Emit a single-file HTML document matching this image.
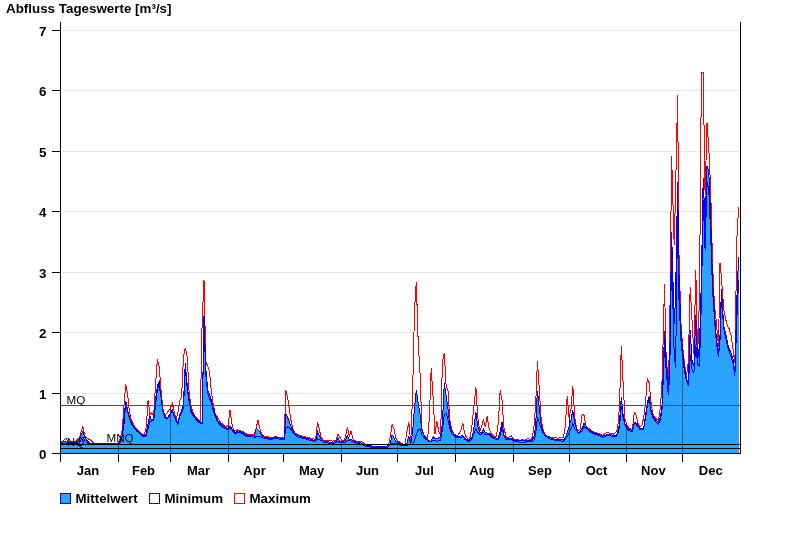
<!DOCTYPE html>
<html lang="de"><head><meta charset="utf-8"><title>Abfluss Tageswerte</title>
<style>html,body{margin:0;padding:0;background:#fff}svg{display:block}text{font-family:"Liberation Sans",sans-serif;fill:#000}.b{font-weight:bold}</style></head><body>
<svg width="800" height="550" viewBox="0 0 800 550">
<rect width="800" height="550" fill="#fff"/>
<g shape-rendering="crispEdges" stroke="#e6e6e6" stroke-width="1">
<line x1="62" x2="740" y1="30.5" y2="30.5"/>
<line x1="62" x2="740" y1="90.5" y2="90.5"/>
<line x1="62" x2="740" y1="151.5" y2="151.5"/>
<line x1="62" x2="740" y1="211.5" y2="211.5"/>
<line x1="62" x2="740" y1="272.5" y2="272.5"/>
<line x1="62" x2="740" y1="332.5" y2="332.5"/>
<line x1="62" x2="740" y1="393.5" y2="393.5"/>
</g>
<defs><clipPath id="cf"><polygon points="60.5,453.5 60.5,442.5 62.4,442.2 64.2,441.8 66.1,442.0 68.0,442.4 69.8,442.5 71.7,442.5 73.5,442.5 75.4,442.5 77.3,442.5 79.1,440.7 81.0,435.0 82.9,431.8 84.7,437.0 86.6,439.9 88.4,441.9 90.3,443.7 92.2,443.7 94.0,443.7 95.9,443.7 97.8,443.7 99.6,443.6 101.5,443.6 103.3,443.6 105.2,443.6 107.1,443.6 108.9,443.6 110.8,443.6 112.7,443.5 114.5,443.5 116.4,443.5 118.3,443.5 120.1,441.5 122.0,435.9 123.8,419.2 125.7,401.0 127.6,410.0 129.4,416.8 131.3,422.4 133.2,425.6 135.0,428.7 136.9,430.5 138.7,432.3 140.6,433.6 142.5,434.8 144.3,435.6 146.2,433.6 148.1,423.2 149.9,416.1 151.8,421.1 153.7,417.7 155.5,400.4 157.4,385.7 159.2,382.0 161.1,397.8 163.0,410.7 164.8,415.2 166.7,418.6 168.6,416.1 170.4,413.1 172.3,409.8 174.1,414.9 176.0,419.5 177.9,423.0 179.7,415.3 181.6,411.1 183.5,402.6 185.3,363.0 187.2,385.6 189.0,398.9 190.9,409.1 192.8,413.7 194.6,416.5 196.5,419.2 198.4,420.6 200.2,422.0 202.1,423.0 204.0,316.0 205.8,368.0 207.7,390.4 209.5,394.5 211.4,400.7 213.3,408.2 215.1,414.1 217.0,419.0 218.9,422.2 220.7,424.1 222.6,426.0 224.4,427.0 226.3,428.0 228.2,428.7 230.0,426.2 231.9,428.7 233.8,431.3 235.6,433.0 237.5,430.5 239.3,431.3 241.2,432.0 243.1,432.8 244.9,434.0 246.8,435.0 248.7,435.2 250.5,435.5 252.4,435.7 254.3,436.0 256.1,428.7 258.0,429.7 259.8,431.8 261.7,435.2 263.6,436.9 265.4,437.2 267.3,437.5 269.2,438.0 271.0,438.7 272.9,437.9 274.7,437.4 276.6,437.6 278.5,437.8 280.3,438.1 282.2,438.4 284.1,438.7 285.9,413.6 287.8,418.0 289.6,422.7 291.5,427.4 293.4,431.6 295.2,433.8 297.1,435.0 299.0,436.2 300.8,436.6 302.7,437.1 304.6,437.5 306.4,438.0 308.3,438.6 310.1,439.1 312.0,439.6 313.9,440.2 315.7,440.6 317.6,431.8 319.5,436.4 321.3,439.4 323.2,440.8 325.0,441.4 326.9,441.7 328.8,441.9 330.6,442.2 332.5,442.5 334.4,441.9 336.2,441.2 338.1,438.1 339.9,441.8 341.8,441.6 343.7,441.4 345.5,440.1 347.4,435.6 349.3,440.0 351.1,439.3 353.0,440.7 354.9,441.4 356.7,441.9 358.6,442.4 360.4,442.9 362.3,443.6 364.2,444.5 366.0,445.1 367.9,445.4 369.8,445.7 371.6,446.0 373.5,446.2 375.3,446.2 377.2,446.2 379.1,446.2 380.9,446.2 382.8,446.2 384.7,446.2 386.5,446.2 388.4,445.6 390.3,443.7 392.1,434.9 394.0,437.6 395.8,441.3 397.7,441.7 399.6,442.9 401.4,444.5 403.3,444.7 405.2,444.7 407.0,442.9 408.9,436.2 410.7,443.7 412.6,432.8 414.5,408.0 416.3,390.4 418.2,403.6 420.1,414.7 421.9,430.0 423.8,434.7 425.6,437.6 427.5,439.8 429.4,440.9 431.2,441.2 433.1,436.8 435.0,438.7 436.8,438.4 438.7,437.8 440.6,436.7 442.4,423.4 444.3,383.5 446.1,395.6 448.0,409.2 449.9,424.8 451.7,431.1 453.6,434.2 455.5,436.2 457.3,436.5 459.2,436.8 461.0,436.1 462.9,435.6 464.8,438.2 466.6,439.4 468.5,440.6 470.4,439.2 472.2,436.9 474.1,426.9 475.9,412.3 477.8,426.4 479.7,431.9 481.5,433.7 483.4,429.3 485.3,432.9 487.1,433.0 489.0,433.6 490.9,435.5 492.7,436.8 494.6,437.7 496.4,438.1 498.3,438.1 500.2,431.0 502.0,422.4 503.9,435.0 505.8,438.7 507.6,438.5 509.5,438.3 511.3,438.1 513.2,439.4 515.1,440.6 516.9,440.7 518.8,440.8 520.7,440.9 522.5,440.9 524.4,441.0 526.2,440.7 528.1,440.5 530.0,440.3 531.8,440.1 533.7,437.8 535.6,425.9 537.4,391.0 539.3,407.0 541.2,424.9 543.0,430.8 544.9,434.5 546.7,435.8 548.6,437.1 550.5,437.9 552.3,438.4 554.2,439.0 556.1,439.4 557.9,439.6 559.8,439.7 561.6,439.9 563.5,440.0 565.4,437.8 567.2,432.8 569.1,426.8 571.0,419.8 572.8,410.5 574.7,422.3 576.6,429.5 578.4,432.4 580.3,431.2 582.1,428.4 584.0,423.0 585.9,426.1 587.7,428.5 589.6,430.4 591.5,431.6 593.3,432.3 595.2,433.1 597.0,433.6 598.9,434.4 600.8,435.3 602.6,436.2 604.5,435.5 606.4,434.8 608.2,434.3 610.1,434.7 611.9,435.0 613.8,435.4 615.7,435.6 617.5,433.1 619.4,424.3 621.3,397.3 623.1,415.1 625.0,424.0 626.9,427.2 628.7,429.1 630.6,429.9 632.4,430.5 634.3,422.4 636.2,423.0 638.0,425.8 639.9,428.2 641.8,428.5 643.6,428.7 645.5,416.0 647.3,402.4 649.2,396.0 651.1,410.5 652.9,416.3 654.8,418.6 656.7,421.0 658.5,422.0 660.4,417.0 662.2,405.0 664.5,331.0 666.0,355.0 668.3,390.0 669.7,365.0 671.6,232.0 674.2,324.0 675.6,296.0 677.6,182.0 679.0,275.0 680.9,330.0 682.7,352.0 684.6,368.0 686.5,379.0 688.3,384.0 690.2,330.0 692.1,362.0 693.9,366.0 695.8,315.0 697.6,360.0 699.5,345.0 701.4,280.0 703.2,178.0 705.1,225.0 707.0,166.0 708.8,172.0 710.7,218.0 712.5,280.0 714.4,312.0 716.3,338.0 718.5,354.0 720.0,335.0 721.4,289.0 723.7,326.0 725.6,333.0 727.5,343.0 729.3,349.0 731.2,353.0 733.0,359.0 734.9,372.0 736.8,300.0 738.6,257.0 738.6,453.5"/></clipPath><clipPath id="cm"><polygon points="60.5,453.5 60.5,442.0 62.4,441.3 64.2,439.8 66.1,438.0 68.0,442.0 69.8,441.9 71.7,441.7 73.5,441.6 75.4,441.5 77.3,441.3 79.1,439.2 81.0,431.9 82.9,426.2 84.7,435.6 86.6,437.8 88.4,439.0 90.3,439.7 92.2,441.6 94.0,443.5 95.9,443.5 97.8,443.4 99.6,443.4 101.5,443.4 103.3,443.3 105.2,443.3 107.1,443.2 108.9,443.2 110.8,443.2 112.7,443.1 114.5,443.1 116.4,443.0 118.3,443.0 120.1,439.1 122.0,431.0 123.8,409.3 125.7,384.0 127.6,394.3 129.4,411.5 131.3,419.9 133.2,423.7 135.0,427.4 136.9,429.3 138.7,431.1 140.6,432.7 142.5,434.2 144.3,434.3 146.2,427.7 148.1,399.8 149.9,414.9 151.8,412.3 153.7,416.0 155.5,384.7 157.4,359.0 159.2,367.0 161.1,390.6 163.0,409.4 164.8,415.2 166.7,413.7 168.6,410.4 170.4,408.3 172.3,403.0 174.1,411.8 176.0,419.5 177.9,413.0 179.7,400.9 181.6,396.7 183.5,356.9 185.3,348.0 187.2,356.6 189.0,391.0 190.9,405.9 192.8,411.5 194.6,415.5 196.5,418.0 198.4,419.9 200.2,421.1 202.1,323.0 204.0,280.0 205.8,362.0 207.7,366.0 209.5,371.0 211.4,392.0 213.3,405.5 215.1,412.9 217.0,416.6 218.9,419.9 220.7,422.7 222.6,424.2 224.4,425.7 226.3,427.4 228.2,425.3 230.0,409.8 231.9,423.6 233.8,431.2 235.6,430.6 237.5,429.9 239.3,430.6 241.2,431.1 243.1,431.8 244.9,433.0 246.8,434.0 248.7,434.2 250.5,434.3 252.4,434.5 254.3,434.7 256.1,428.7 258.0,419.9 259.8,428.9 261.7,433.5 263.6,436.2 265.4,436.3 267.3,436.5 269.2,437.0 271.0,437.7 272.9,437.2 274.7,436.8 276.6,437.0 278.5,437.2 280.3,437.4 282.2,437.5 284.1,437.7 285.9,390.4 287.8,398.5 289.6,411.5 291.5,423.6 293.4,430.2 295.2,433.1 297.1,434.1 299.0,435.2 300.8,435.7 302.7,436.1 304.6,436.6 306.4,437.1 308.3,437.5 310.1,438.0 312.0,438.5 313.9,438.9 315.7,439.3 317.6,421.8 319.5,430.3 321.3,437.8 323.2,440.0 325.0,440.1 326.9,440.2 328.8,440.5 330.6,440.8 332.5,441.2 334.4,440.6 336.2,440.0 338.1,434.3 339.9,437.4 341.8,440.6 343.7,440.3 345.5,436.9 347.4,427.4 349.3,436.2 351.1,431.2 353.0,439.3 354.9,440.4 356.7,441.3 358.6,441.5 360.4,441.8 362.3,442.1 364.2,443.4 366.0,444.8 367.9,445.2 369.8,445.6 371.6,446.0 373.5,446.2 375.3,446.2 377.2,446.2 379.1,446.2 380.9,446.2 382.8,446.2 384.7,446.2 386.5,446.2 388.4,445.6 390.3,436.9 392.1,424.3 394.0,429.2 395.8,438.4 397.7,440.5 399.6,442.2 401.4,443.9 403.3,444.0 405.2,444.0 407.0,431.2 408.9,422.4 410.7,443.1 412.6,393.5 414.5,310.6 416.3,282.0 418.2,342.1 420.1,374.9 421.9,428.8 423.8,434.7 425.6,437.0 427.5,439.8 429.4,417.1 431.2,368.3 433.1,397.1 435.0,433.7 436.8,421.1 438.7,431.2 440.6,435.6 442.4,362.1 444.3,353.0 446.1,385.6 448.0,390.9 449.9,420.2 451.7,429.7 453.6,433.9 455.5,435.0 457.3,435.6 459.2,433.3 461.0,429.7 462.9,423.6 464.8,433.7 466.6,437.8 468.5,439.3 470.4,437.1 472.2,423.1 474.1,404.5 475.9,386.8 477.8,417.5 479.7,431.2 481.5,427.1 483.4,419.2 485.3,427.4 487.1,416.1 489.0,427.6 490.9,433.3 492.7,435.5 494.6,436.8 496.4,436.5 498.3,423.0 500.2,390.0 502.0,400.3 503.9,427.0 505.8,436.3 507.6,438.1 509.5,436.8 511.3,435.6 513.2,438.4 515.1,439.5 516.9,439.7 518.8,440.0 520.7,440.2 522.5,439.3 524.4,440.2 526.2,439.4 528.1,438.1 530.0,440.2 531.8,438.6 533.7,429.4 535.6,406.2 537.4,361.2 539.3,389.6 541.2,419.5 543.0,429.5 544.9,434.1 546.7,435.7 548.6,436.6 550.5,437.4 552.3,437.6 554.2,437.8 556.1,437.9 557.9,438.1 559.8,437.9 561.6,437.7 563.5,437.5 565.4,425.3 567.2,396.0 569.1,417.4 571.0,408.9 572.8,385.9 574.7,417.1 576.6,428.5 578.4,430.5 580.3,428.5 582.1,414.2 584.0,415.2 585.9,426.1 587.7,427.7 589.6,429.1 591.5,430.6 593.3,431.9 595.2,432.5 597.0,433.2 598.9,433.8 600.8,434.5 602.6,435.2 604.5,434.1 606.4,432.9 608.2,432.2 610.1,433.7 611.9,433.0 613.8,434.3 615.7,432.6 617.5,429.8 619.4,407.9 621.3,345.7 623.1,382.5 625.0,419.5 626.9,424.5 628.7,427.7 630.6,429.1 632.4,429.9 634.3,412.3 636.2,415.5 638.0,423.6 639.9,427.4 641.8,425.5 643.6,418.1 645.5,402.9 647.3,378.0 649.2,382.9 651.1,403.5 652.9,414.4 654.8,417.1 656.7,419.2 658.5,420.0 660.4,408.0 662.2,378.0 664.5,284.0 666.0,352.0 668.3,386.0 669.7,335.0 671.6,156.0 674.2,245.0 675.6,190.0 677.6,95.0 679.0,255.0 680.9,322.0 682.7,347.0 684.6,364.0 686.5,376.0 688.3,362.0 690.2,287.0 692.1,322.0 693.9,354.0 695.8,270.0 697.6,357.0 699.5,295.0 701.4,72.0 703.2,72.0 705.1,195.0 707.0,123.0 708.8,148.0 710.7,190.0 712.5,262.0 714.4,305.0 716.3,322.0 718.5,347.0 720.0,263.0 721.4,277.0 723.7,309.0 725.6,319.0 727.5,326.0 729.3,329.0 731.2,336.0 733.0,349.0 734.9,363.0 736.8,240.0 738.6,207.0 738.6,453.5"/></clipPath></defs>
<g shape-rendering="crispEdges" fill="none" stroke-width="1">
<polyline stroke="#ff0000" points="60.5,442.0 62.4,441.3 64.2,439.8 66.1,438.0 68.0,442.0 69.8,441.9 71.7,441.7 73.5,441.6 75.4,441.5 77.3,441.3 79.1,439.2 81.0,431.9 82.9,426.2 84.7,435.6 86.6,437.8 88.4,439.0 90.3,439.7 92.2,441.6 94.0,443.5 95.9,443.5 97.8,443.4 99.6,443.4 101.5,443.4 103.3,443.3 105.2,443.3 107.1,443.2 108.9,443.2 110.8,443.2 112.7,443.1 114.5,443.1 116.4,443.0 118.3,443.0 120.1,439.1 122.0,431.0 123.8,409.3 125.7,384.0 127.6,394.3 129.4,411.5 131.3,419.9 133.2,423.7 135.0,427.4 136.9,429.3 138.7,431.1 140.6,432.7 142.5,434.2 144.3,434.3 146.2,427.7 148.1,399.8 149.9,414.9 151.8,412.3 153.7,416.0 155.5,384.7 157.4,359.0 159.2,367.0 161.1,390.6 163.0,409.4 164.8,415.2 166.7,413.7 168.6,410.4 170.4,408.3 172.3,403.0 174.1,411.8 176.0,419.5 177.9,413.0 179.7,400.9 181.6,396.7 183.5,356.9 185.3,348.0 187.2,356.6 189.0,391.0 190.9,405.9 192.8,411.5 194.6,415.5 196.5,418.0 198.4,419.9 200.2,421.1 202.1,323.0 204.0,280.0 205.8,362.0 207.7,366.0 209.5,371.0 211.4,392.0 213.3,405.5 215.1,412.9 217.0,416.6 218.9,419.9 220.7,422.7 222.6,424.2 224.4,425.7 226.3,427.4 228.2,425.3 230.0,409.8 231.9,423.6 233.8,431.2 235.6,430.6 237.5,429.9 239.3,430.6 241.2,431.1 243.1,431.8 244.9,433.0 246.8,434.0 248.7,434.2 250.5,434.3 252.4,434.5 254.3,434.7 256.1,428.7 258.0,419.9 259.8,428.9 261.7,433.5 263.6,436.2 265.4,436.3 267.3,436.5 269.2,437.0 271.0,437.7 272.9,437.2 274.7,436.8 276.6,437.0 278.5,437.2 280.3,437.4 282.2,437.5 284.1,437.7 285.9,390.4 287.8,398.5 289.6,411.5 291.5,423.6 293.4,430.2 295.2,433.1 297.1,434.1 299.0,435.2 300.8,435.7 302.7,436.1 304.6,436.6 306.4,437.1 308.3,437.5 310.1,438.0 312.0,438.5 313.9,438.9 315.7,439.3 317.6,421.8 319.5,430.3 321.3,437.8 323.2,440.0 325.0,440.1 326.9,440.2 328.8,440.5 330.6,440.8 332.5,441.2 334.4,440.6 336.2,440.0 338.1,434.3 339.9,437.4 341.8,440.6 343.7,440.3 345.5,436.9 347.4,427.4 349.3,436.2 351.1,431.2 353.0,439.3 354.9,440.4 356.7,441.3 358.6,441.5 360.4,441.8 362.3,442.1 364.2,443.4 366.0,444.8 367.9,445.2 369.8,445.6 371.6,446.0 373.5,446.2 375.3,446.2 377.2,446.2 379.1,446.2 380.9,446.2 382.8,446.2 384.7,446.2 386.5,446.2 388.4,445.6 390.3,436.9 392.1,424.3 394.0,429.2 395.8,438.4 397.7,440.5 399.6,442.2 401.4,443.9 403.3,444.0 405.2,444.0 407.0,431.2 408.9,422.4 410.7,443.1 412.6,393.5 414.5,310.6 416.3,282.0 418.2,342.1 420.1,374.9 421.9,428.8 423.8,434.7 425.6,437.0 427.5,439.8 429.4,417.1 431.2,368.3 433.1,397.1 435.0,433.7 436.8,421.1 438.7,431.2 440.6,435.6 442.4,362.1 444.3,353.0 446.1,385.6 448.0,390.9 449.9,420.2 451.7,429.7 453.6,433.9 455.5,435.0 457.3,435.6 459.2,433.3 461.0,429.7 462.9,423.6 464.8,433.7 466.6,437.8 468.5,439.3 470.4,437.1 472.2,423.1 474.1,404.5 475.9,386.8 477.8,417.5 479.7,431.2 481.5,427.1 483.4,419.2 485.3,427.4 487.1,416.1 489.0,427.6 490.9,433.3 492.7,435.5 494.6,436.8 496.4,436.5 498.3,423.0 500.2,390.0 502.0,400.3 503.9,427.0 505.8,436.3 507.6,438.1 509.5,436.8 511.3,435.6 513.2,438.4 515.1,439.5 516.9,439.7 518.8,440.0 520.7,440.2 522.5,439.3 524.4,440.2 526.2,439.4 528.1,438.1 530.0,440.2 531.8,438.6 533.7,429.4 535.6,406.2 537.4,361.2 539.3,389.6 541.2,419.5 543.0,429.5 544.9,434.1 546.7,435.7 548.6,436.6 550.5,437.4 552.3,437.6 554.2,437.8 556.1,437.9 557.9,438.1 559.8,437.9 561.6,437.7 563.5,437.5 565.4,425.3 567.2,396.0 569.1,417.4 571.0,408.9 572.8,385.9 574.7,417.1 576.6,428.5 578.4,430.5 580.3,428.5 582.1,414.2 584.0,415.2 585.9,426.1 587.7,427.7 589.6,429.1 591.5,430.6 593.3,431.9 595.2,432.5 597.0,433.2 598.9,433.8 600.8,434.5 602.6,435.2 604.5,434.1 606.4,432.9 608.2,432.2 610.1,433.7 611.9,433.0 613.8,434.3 615.7,432.6 617.5,429.8 619.4,407.9 621.3,345.7 623.1,382.5 625.0,419.5 626.9,424.5 628.7,427.7 630.6,429.1 632.4,429.9 634.3,412.3 636.2,415.5 638.0,423.6 639.9,427.4 641.8,425.5 643.6,418.1 645.5,402.9 647.3,378.0 649.2,382.9 651.1,403.5 652.9,414.4 654.8,417.1 656.7,419.2 658.5,420.0 660.4,408.0 662.2,378.0 664.5,284.0 666.0,352.0 668.3,386.0 669.7,335.0 671.6,156.0 674.2,245.0 675.6,190.0 677.6,95.0 679.0,255.0 680.9,322.0 682.7,347.0 684.6,364.0 686.5,376.0 688.3,362.0 690.2,287.0 692.1,322.0 693.9,354.0 695.8,270.0 697.6,357.0 699.5,295.0 701.4,72.0 703.2,72.0 705.1,195.0 707.0,123.0 708.8,148.0 710.7,190.0 712.5,262.0 714.4,305.0 716.3,322.0 718.5,347.0 720.0,263.0 721.4,277.0 723.7,309.0 725.6,319.0 727.5,326.0 729.3,329.0 731.2,336.0 733.0,349.0 734.9,363.0 736.8,240.0 738.6,207.0"/>
<g clip-path="url(#cm)" stroke="#8c0000">
<line x1="118.5" x2="118.5" y1="22" y2="453"/>
<line x1="170.5" x2="170.5" y1="22" y2="453"/>
<line x1="228.5" x2="228.5" y1="22" y2="453"/>
<line x1="341.5" x2="341.5" y1="22" y2="453"/>
<line x1="397.5" x2="397.5" y1="22" y2="453"/>
<line x1="455.5" x2="455.5" y1="22" y2="453"/>
<line x1="513.5" x2="513.5" y1="22" y2="453"/>
<line x1="569.5" x2="569.5" y1="22" y2="453"/>
<line x1="626.5" x2="626.5" y1="22" y2="453"/>
<line x1="682.5" x2="682.5" y1="22" y2="453"/>
</g>
<polygon fill="#2aa5ff" stroke="none" points="60.5,453.5 60.5,442.5 62.4,442.2 64.2,441.8 66.1,442.0 68.0,442.4 69.8,442.5 71.7,442.5 73.5,442.5 75.4,442.5 77.3,442.5 79.1,440.7 81.0,435.0 82.9,431.8 84.7,437.0 86.6,439.9 88.4,441.9 90.3,443.7 92.2,443.7 94.0,443.7 95.9,443.7 97.8,443.7 99.6,443.6 101.5,443.6 103.3,443.6 105.2,443.6 107.1,443.6 108.9,443.6 110.8,443.6 112.7,443.5 114.5,443.5 116.4,443.5 118.3,443.5 120.1,441.5 122.0,435.9 123.8,419.2 125.7,401.0 127.6,410.0 129.4,416.8 131.3,422.4 133.2,425.6 135.0,428.7 136.9,430.5 138.7,432.3 140.6,433.6 142.5,434.8 144.3,435.6 146.2,433.6 148.1,423.2 149.9,416.1 151.8,421.1 153.7,417.7 155.5,400.4 157.4,385.7 159.2,382.0 161.1,397.8 163.0,410.7 164.8,415.2 166.7,418.6 168.6,416.1 170.4,413.1 172.3,409.8 174.1,414.9 176.0,419.5 177.9,423.0 179.7,415.3 181.6,411.1 183.5,402.6 185.3,363.0 187.2,385.6 189.0,398.9 190.9,409.1 192.8,413.7 194.6,416.5 196.5,419.2 198.4,420.6 200.2,422.0 202.1,423.0 204.0,316.0 205.8,368.0 207.7,390.4 209.5,394.5 211.4,400.7 213.3,408.2 215.1,414.1 217.0,419.0 218.9,422.2 220.7,424.1 222.6,426.0 224.4,427.0 226.3,428.0 228.2,428.7 230.0,426.2 231.9,428.7 233.8,431.3 235.6,433.0 237.5,430.5 239.3,431.3 241.2,432.0 243.1,432.8 244.9,434.0 246.8,435.0 248.7,435.2 250.5,435.5 252.4,435.7 254.3,436.0 256.1,428.7 258.0,429.7 259.8,431.8 261.7,435.2 263.6,436.9 265.4,437.2 267.3,437.5 269.2,438.0 271.0,438.7 272.9,437.9 274.7,437.4 276.6,437.6 278.5,437.8 280.3,438.1 282.2,438.4 284.1,438.7 285.9,413.6 287.8,418.0 289.6,422.7 291.5,427.4 293.4,431.6 295.2,433.8 297.1,435.0 299.0,436.2 300.8,436.6 302.7,437.1 304.6,437.5 306.4,438.0 308.3,438.6 310.1,439.1 312.0,439.6 313.9,440.2 315.7,440.6 317.6,431.8 319.5,436.4 321.3,439.4 323.2,440.8 325.0,441.4 326.9,441.7 328.8,441.9 330.6,442.2 332.5,442.5 334.4,441.9 336.2,441.2 338.1,438.1 339.9,441.8 341.8,441.6 343.7,441.4 345.5,440.1 347.4,435.6 349.3,440.0 351.1,439.3 353.0,440.7 354.9,441.4 356.7,441.9 358.6,442.4 360.4,442.9 362.3,443.6 364.2,444.5 366.0,445.1 367.9,445.4 369.8,445.7 371.6,446.0 373.5,446.2 375.3,446.2 377.2,446.2 379.1,446.2 380.9,446.2 382.8,446.2 384.7,446.2 386.5,446.2 388.4,445.6 390.3,443.7 392.1,434.9 394.0,437.6 395.8,441.3 397.7,441.7 399.6,442.9 401.4,444.5 403.3,444.7 405.2,444.7 407.0,442.9 408.9,436.2 410.7,443.7 412.6,432.8 414.5,408.0 416.3,390.4 418.2,403.6 420.1,414.7 421.9,430.0 423.8,434.7 425.6,437.6 427.5,439.8 429.4,440.9 431.2,441.2 433.1,436.8 435.0,438.7 436.8,438.4 438.7,437.8 440.6,436.7 442.4,423.4 444.3,383.5 446.1,395.6 448.0,409.2 449.9,424.8 451.7,431.1 453.6,434.2 455.5,436.2 457.3,436.5 459.2,436.8 461.0,436.1 462.9,435.6 464.8,438.2 466.6,439.4 468.5,440.6 470.4,439.2 472.2,436.9 474.1,426.9 475.9,412.3 477.8,426.4 479.7,431.9 481.5,433.7 483.4,429.3 485.3,432.9 487.1,433.0 489.0,433.6 490.9,435.5 492.7,436.8 494.6,437.7 496.4,438.1 498.3,438.1 500.2,431.0 502.0,422.4 503.9,435.0 505.8,438.7 507.6,438.5 509.5,438.3 511.3,438.1 513.2,439.4 515.1,440.6 516.9,440.7 518.8,440.8 520.7,440.9 522.5,440.9 524.4,441.0 526.2,440.7 528.1,440.5 530.0,440.3 531.8,440.1 533.7,437.8 535.6,425.9 537.4,391.0 539.3,407.0 541.2,424.9 543.0,430.8 544.9,434.5 546.7,435.8 548.6,437.1 550.5,437.9 552.3,438.4 554.2,439.0 556.1,439.4 557.9,439.6 559.8,439.7 561.6,439.9 563.5,440.0 565.4,437.8 567.2,432.8 569.1,426.8 571.0,419.8 572.8,410.5 574.7,422.3 576.6,429.5 578.4,432.4 580.3,431.2 582.1,428.4 584.0,423.0 585.9,426.1 587.7,428.5 589.6,430.4 591.5,431.6 593.3,432.3 595.2,433.1 597.0,433.6 598.9,434.4 600.8,435.3 602.6,436.2 604.5,435.5 606.4,434.8 608.2,434.3 610.1,434.7 611.9,435.0 613.8,435.4 615.7,435.6 617.5,433.1 619.4,424.3 621.3,397.3 623.1,415.1 625.0,424.0 626.9,427.2 628.7,429.1 630.6,429.9 632.4,430.5 634.3,422.4 636.2,423.0 638.0,425.8 639.9,428.2 641.8,428.5 643.6,428.7 645.5,416.0 647.3,402.4 649.2,396.0 651.1,410.5 652.9,416.3 654.8,418.6 656.7,421.0 658.5,422.0 660.4,417.0 662.2,405.0 664.5,331.0 666.0,355.0 668.3,390.0 669.7,365.0 671.6,232.0 674.2,324.0 675.6,296.0 677.6,182.0 679.0,275.0 680.9,330.0 682.7,352.0 684.6,368.0 686.5,379.0 688.3,384.0 690.2,330.0 692.1,362.0 693.9,366.0 695.8,315.0 697.6,360.0 699.5,345.0 701.4,280.0 703.2,178.0 705.1,225.0 707.0,166.0 708.8,172.0 710.7,218.0 712.5,280.0 714.4,312.0 716.3,338.0 718.5,354.0 720.0,335.0 721.4,289.0 723.7,326.0 725.6,333.0 727.5,343.0 729.3,349.0 731.2,353.0 733.0,359.0 734.9,372.0 736.8,300.0 738.6,257.0 738.6,453.5"/>
<g clip-path="url(#cf)" stroke="#0b3c5c" stroke-opacity="0.7">
<line x1="118.5" x2="118.5" y1="22" y2="453"/>
<line x1="170.5" x2="170.5" y1="22" y2="453"/>
<line x1="228.5" x2="228.5" y1="22" y2="453"/>
<line x1="341.5" x2="341.5" y1="22" y2="453"/>
<line x1="397.5" x2="397.5" y1="22" y2="453"/>
<line x1="455.5" x2="455.5" y1="22" y2="453"/>
<line x1="513.5" x2="513.5" y1="22" y2="453"/>
<line x1="569.5" x2="569.5" y1="22" y2="453"/>
<line x1="626.5" x2="626.5" y1="22" y2="453"/>
<line x1="682.5" x2="682.5" y1="22" y2="453"/>
</g>
<polyline stroke="#0000ff" points="60.5,442.5 62.4,442.2 64.2,441.8 66.1,442.0 68.0,442.4 69.8,442.5 71.7,442.5 73.5,442.5 75.4,442.5 77.3,442.5 79.1,440.7 81.0,435.0 82.9,431.8 84.7,437.0 86.6,439.9 88.4,441.9 90.3,443.7 92.2,443.7 94.0,443.7 95.9,443.7 97.8,443.7 99.6,443.6 101.5,443.6 103.3,443.6 105.2,443.6 107.1,443.6 108.9,443.6 110.8,443.6 112.7,443.5 114.5,443.5 116.4,443.5 118.3,443.5 120.1,441.5 122.0,435.9 123.8,419.2 125.7,401.0 127.6,410.0 129.4,416.8 131.3,422.4 133.2,425.6 135.0,428.7 136.9,430.5 138.7,432.3 140.6,433.6 142.5,434.8 144.3,435.6 146.2,433.6 148.1,423.2 149.9,416.1 151.8,421.1 153.7,417.7 155.5,400.4 157.4,385.7 159.2,382.0 161.1,397.8 163.0,410.7 164.8,415.2 166.7,418.6 168.6,416.1 170.4,413.1 172.3,409.8 174.1,414.9 176.0,419.5 177.9,423.0 179.7,415.3 181.6,411.1 183.5,402.6 185.3,363.0 187.2,385.6 189.0,398.9 190.9,409.1 192.8,413.7 194.6,416.5 196.5,419.2 198.4,420.6 200.2,422.0 202.1,423.0 204.0,316.0 205.8,368.0 207.7,390.4 209.5,394.5 211.4,400.7 213.3,408.2 215.1,414.1 217.0,419.0 218.9,422.2 220.7,424.1 222.6,426.0 224.4,427.0 226.3,428.0 228.2,428.7 230.0,426.2 231.9,428.7 233.8,431.3 235.6,433.0 237.5,430.5 239.3,431.3 241.2,432.0 243.1,432.8 244.9,434.0 246.8,435.0 248.7,435.2 250.5,435.5 252.4,435.7 254.3,436.0 256.1,428.7 258.0,429.7 259.8,431.8 261.7,435.2 263.6,436.9 265.4,437.2 267.3,437.5 269.2,438.0 271.0,438.7 272.9,437.9 274.7,437.4 276.6,437.6 278.5,437.8 280.3,438.1 282.2,438.4 284.1,438.7 285.9,413.6 287.8,418.0 289.6,422.7 291.5,427.4 293.4,431.6 295.2,433.8 297.1,435.0 299.0,436.2 300.8,436.6 302.7,437.1 304.6,437.5 306.4,438.0 308.3,438.6 310.1,439.1 312.0,439.6 313.9,440.2 315.7,440.6 317.6,431.8 319.5,436.4 321.3,439.4 323.2,440.8 325.0,441.4 326.9,441.7 328.8,441.9 330.6,442.2 332.5,442.5 334.4,441.9 336.2,441.2 338.1,438.1 339.9,441.8 341.8,441.6 343.7,441.4 345.5,440.1 347.4,435.6 349.3,440.0 351.1,439.3 353.0,440.7 354.9,441.4 356.7,441.9 358.6,442.4 360.4,442.9 362.3,443.6 364.2,444.5 366.0,445.1 367.9,445.4 369.8,445.7 371.6,446.0 373.5,446.2 375.3,446.2 377.2,446.2 379.1,446.2 380.9,446.2 382.8,446.2 384.7,446.2 386.5,446.2 388.4,445.6 390.3,443.7 392.1,434.9 394.0,437.6 395.8,441.3 397.7,441.7 399.6,442.9 401.4,444.5 403.3,444.7 405.2,444.7 407.0,442.9 408.9,436.2 410.7,443.7 412.6,432.8 414.5,408.0 416.3,390.4 418.2,403.6 420.1,414.7 421.9,430.0 423.8,434.7 425.6,437.6 427.5,439.8 429.4,440.9 431.2,441.2 433.1,436.8 435.0,438.7 436.8,438.4 438.7,437.8 440.6,436.7 442.4,423.4 444.3,383.5 446.1,395.6 448.0,409.2 449.9,424.8 451.7,431.1 453.6,434.2 455.5,436.2 457.3,436.5 459.2,436.8 461.0,436.1 462.9,435.6 464.8,438.2 466.6,439.4 468.5,440.6 470.4,439.2 472.2,436.9 474.1,426.9 475.9,412.3 477.8,426.4 479.7,431.9 481.5,433.7 483.4,429.3 485.3,432.9 487.1,433.0 489.0,433.6 490.9,435.5 492.7,436.8 494.6,437.7 496.4,438.1 498.3,438.1 500.2,431.0 502.0,422.4 503.9,435.0 505.8,438.7 507.6,438.5 509.5,438.3 511.3,438.1 513.2,439.4 515.1,440.6 516.9,440.7 518.8,440.8 520.7,440.9 522.5,440.9 524.4,441.0 526.2,440.7 528.1,440.5 530.0,440.3 531.8,440.1 533.7,437.8 535.6,425.9 537.4,391.0 539.3,407.0 541.2,424.9 543.0,430.8 544.9,434.5 546.7,435.8 548.6,437.1 550.5,437.9 552.3,438.4 554.2,439.0 556.1,439.4 557.9,439.6 559.8,439.7 561.6,439.9 563.5,440.0 565.4,437.8 567.2,432.8 569.1,426.8 571.0,419.8 572.8,410.5 574.7,422.3 576.6,429.5 578.4,432.4 580.3,431.2 582.1,428.4 584.0,423.0 585.9,426.1 587.7,428.5 589.6,430.4 591.5,431.6 593.3,432.3 595.2,433.1 597.0,433.6 598.9,434.4 600.8,435.3 602.6,436.2 604.5,435.5 606.4,434.8 608.2,434.3 610.1,434.7 611.9,435.0 613.8,435.4 615.7,435.6 617.5,433.1 619.4,424.3 621.3,397.3 623.1,415.1 625.0,424.0 626.9,427.2 628.7,429.1 630.6,429.9 632.4,430.5 634.3,422.4 636.2,423.0 638.0,425.8 639.9,428.2 641.8,428.5 643.6,428.7 645.5,416.0 647.3,402.4 649.2,396.0 651.1,410.5 652.9,416.3 654.8,418.6 656.7,421.0 658.5,422.0 660.4,417.0 662.2,405.0 664.5,331.0 666.0,355.0 668.3,390.0 669.7,365.0 671.6,232.0 674.2,324.0 675.6,296.0 677.6,182.0 679.0,275.0 680.9,330.0 682.7,352.0 684.6,368.0 686.5,379.0 688.3,384.0 690.2,330.0 692.1,362.0 693.9,366.0 695.8,315.0 697.6,360.0 699.5,345.0 701.4,280.0 703.2,178.0 705.1,225.0 707.0,166.0 708.8,172.0 710.7,218.0 712.5,280.0 714.4,312.0 716.3,338.0 718.5,354.0 720.0,335.0 721.4,289.0 723.7,326.0 725.6,333.0 727.5,343.0 729.3,349.0 731.2,353.0 733.0,359.0 734.9,372.0 736.8,300.0 738.6,257.0"/>
<polyline stroke="#0000ff" points="60.5,443.7 62.4,443.4 64.2,443.0 66.1,443.2 68.0,443.6 69.8,443.7 71.7,443.7 73.5,443.7 75.4,443.7 77.3,443.7 79.1,443.4 81.0,439.7 82.9,437.0 84.7,440.8 86.6,442.9 88.4,443.1 90.3,444.9 92.2,444.9 94.0,444.9 95.9,444.9 97.8,444.9 99.6,444.8 101.5,444.8 103.3,444.8 105.2,444.8 107.1,444.8 108.9,444.8 110.8,444.8 112.7,444.7 114.5,444.7 116.4,444.7 118.3,444.7 120.1,442.7 122.0,437.1 123.8,427.0 125.7,404.0 127.6,411.3 129.4,418.7 131.3,423.3 133.2,426.6 135.0,429.2 136.9,431.3 138.7,432.9 140.6,434.8 142.5,436.0 144.3,436.8 146.2,435.5 148.1,429.0 149.9,421.8 151.8,421.1 153.7,420.8 155.5,405.7 157.4,390.0 159.2,385.0 161.1,398.0 163.0,412.3 164.8,417.1 166.7,419.6 168.6,417.3 170.4,414.3 172.3,411.0 174.1,416.1 176.0,420.7 177.9,424.2 179.7,416.5 181.6,413.1 183.5,407.0 185.3,368.0 187.2,388.0 189.0,400.7 190.9,411.2 192.8,415.5 194.6,417.7 196.5,420.4 198.4,421.8 200.2,423.2 202.1,423.0 204.0,324.0 205.8,374.7 207.7,393.5 209.5,398.1 211.4,403.5 213.3,410.6 215.1,416.2 217.0,420.6 218.9,423.4 220.7,425.3 222.6,427.2 224.4,428.2 226.3,429.2 228.2,429.9 230.0,427.4 231.9,429.9 233.8,432.5 235.6,434.2 237.5,431.7 239.3,432.5 241.2,433.2 243.1,434.0 244.9,435.2 246.8,436.2 248.7,436.4 250.5,436.7 252.4,436.9 254.3,437.2 256.1,436.9 258.0,436.5 259.8,436.5 261.7,437.4 263.6,438.1 265.4,438.4 267.3,438.7 269.2,439.2 271.0,439.9 272.9,439.1 274.7,438.6 276.6,438.8 278.5,439.0 280.3,439.3 282.2,439.6 284.1,439.7 285.9,427.8 287.8,426.8 289.6,428.1 291.5,430.0 293.4,433.4 295.2,435.2 297.1,436.4 299.0,437.5 300.8,437.8 302.7,438.3 304.6,438.7 306.4,439.2 308.3,439.8 310.1,440.3 312.0,440.8 313.9,441.4 315.7,440.9 317.6,438.7 319.5,439.9 321.3,440.6 323.2,442.0 325.0,442.6 326.9,442.9 328.8,443.1 330.6,443.4 332.5,443.7 334.4,443.1 336.2,442.4 338.1,441.5 339.9,442.3 341.8,442.8 343.7,442.6 345.5,442.0 347.4,440.5 349.3,440.8 351.1,441.1 353.0,441.9 354.9,442.6 356.7,443.1 358.6,443.6 360.4,444.1 362.3,444.8 364.2,445.7 366.0,446.3 367.9,446.6 369.8,446.9 371.6,447.2 373.5,447.4 375.3,447.4 377.2,447.4 379.1,447.4 380.9,447.4 382.8,447.4 384.7,447.4 386.5,447.4 388.4,446.8 390.3,444.8 392.1,443.6 394.0,443.0 395.8,443.0 397.7,443.1 399.6,444.1 401.4,445.7 403.3,445.9 405.2,445.9 407.0,445.4 408.9,444.0 410.7,444.9 412.6,443.5 414.5,441.0 416.3,434.5 418.2,430.1 420.1,429.3 421.9,434.9 423.8,437.2 425.6,439.2 427.5,440.6 429.4,442.0 431.2,441.6 433.1,440.0 435.0,440.7 436.8,441.1 438.7,440.9 440.6,440.6 442.4,429.9 444.3,414.7 446.1,413.0 448.0,420.1 449.9,428.4 451.7,433.3 453.6,435.8 455.5,437.4 457.3,437.7 459.2,438.0 461.0,437.3 462.9,436.8 464.8,439.4 466.6,440.6 468.5,441.8 470.4,440.4 472.2,438.4 474.1,433.7 475.9,428.7 477.8,432.3 479.7,434.1 481.5,434.9 483.4,432.5 485.3,434.7 487.1,434.2 489.0,434.8 490.9,436.7 492.7,438.0 494.6,438.9 496.4,439.3 498.3,439.3 500.2,435.9 502.0,427.4 503.9,435.9 505.8,439.6 507.6,439.7 509.5,439.5 511.3,439.3 513.2,440.6 515.1,441.8 516.9,441.9 518.8,442.0 520.7,442.1 522.5,442.1 524.4,442.2 526.2,441.9 528.1,441.7 530.0,441.5 531.8,441.3 533.7,440.6 535.6,435.0 537.4,417.4 539.3,422.4 541.2,428.9 543.0,432.8 544.9,435.7 546.7,437.0 548.6,438.3 550.5,439.1 552.3,439.6 554.2,440.2 556.1,440.6 557.9,440.8 559.8,440.9 561.6,441.1 563.5,441.2 565.4,439.0 567.2,436.5 569.1,432.8 571.0,428.7 572.8,423.6 574.7,428.4 576.6,430.7 578.4,433.6 580.3,432.4 582.1,431.1 584.0,426.0 585.9,428.5 587.7,429.7 589.6,431.6 591.5,432.8 593.3,433.5 595.2,434.3 597.0,434.8 598.9,435.6 600.8,436.5 602.6,437.4 604.5,436.7 606.4,436.0 608.2,435.5 610.1,435.9 611.9,436.2 613.8,436.6 615.7,436.8 617.5,434.3 619.4,427.8 621.3,406.0 623.1,417.0 625.0,425.3 626.9,428.8 628.7,430.3 630.6,431.1 632.4,431.7 634.3,423.6 636.2,424.2 638.0,427.0 639.9,429.4 641.8,429.7 643.6,429.9 645.5,418.2 647.3,405.7 649.2,398.5 651.1,412.4 652.9,417.8 654.8,420.2 656.7,422.6 658.5,424.0 660.4,420.0 662.2,408.0 664.5,345.0 666.0,368.0 668.3,395.0 669.7,375.0 671.6,253.0 674.2,355.0 675.6,367.5 677.6,215.0 679.0,300.0 680.9,340.0 682.7,358.0 684.6,372.0 686.5,381.0 688.3,386.0 690.2,355.0 692.1,370.0 693.9,373.0 695.8,345.0 697.6,364.0 699.5,366.0 701.4,300.0 703.2,200.0 705.1,250.0 707.0,182.0 708.8,190.0 710.7,235.0 712.5,290.0 714.4,318.0 716.3,342.0 718.5,357.0 720.0,340.0 721.4,296.0 723.7,329.0 725.6,337.0 727.5,346.0 729.3,352.0 731.2,357.0 733.0,363.0 734.9,376.0 736.8,320.0 738.6,280.0"/>
<line stroke="#008000" x1="61" x2="740" y1="405.5" y2="405.5"/>
<line stroke="#000" x1="61" x2="740" y1="444.5" y2="444.5"/>
<line stroke="#000" x1="61" x2="740" y1="448.5" y2="448.5"/>
<g stroke="#000">
<line x1="60.5" x2="60.5" y1="22" y2="462"/>
<line x1="740.5" x2="740.5" y1="22" y2="454"/>
<line x1="52" x2="741" y1="453.5" y2="453.5"/>
<line x1="52" x2="60" y1="30.5" y2="30.5"/>
<line x1="52" x2="60" y1="90.5" y2="90.5"/>
<line x1="52" x2="60" y1="151.5" y2="151.5"/>
<line x1="52" x2="60" y1="211.5" y2="211.5"/>
<line x1="52" x2="60" y1="272.5" y2="272.5"/>
<line x1="52" x2="60" y1="332.5" y2="332.5"/>
<line x1="52" x2="60" y1="393.5" y2="393.5"/>
<line x1="118.5" x2="118.5" y1="454" y2="462"/>
<line x1="170.5" x2="170.5" y1="454" y2="462"/>
<line x1="228.5" x2="228.5" y1="454" y2="462"/>
<line x1="283.5" x2="283.5" y1="454" y2="462"/>
<line x1="341.5" x2="341.5" y1="454" y2="462"/>
<line x1="397.5" x2="397.5" y1="454" y2="462"/>
<line x1="455.5" x2="455.5" y1="454" y2="462"/>
<line x1="513.5" x2="513.5" y1="454" y2="462"/>
<line x1="569.5" x2="569.5" y1="454" y2="462"/>
<line x1="626.5" x2="626.5" y1="454" y2="462"/>
<line x1="682.5" x2="682.5" y1="454" y2="462"/>
</g>
</g>
<text class="b" x="6" y="12.8" font-size="13.33" textLength="165.5" lengthAdjust="spacing">Abfluss Tageswerte [m³/s]</text>
<text class="b" x="46.5" y="35.6" font-size="13.33" text-anchor="end">7</text>
<text class="b" x="46.5" y="95.6" font-size="13.33" text-anchor="end">6</text>
<text class="b" x="46.5" y="156.6" font-size="13.33" text-anchor="end">5</text>
<text class="b" x="46.5" y="216.6" font-size="13.33" text-anchor="end">4</text>
<text class="b" x="46.5" y="277.6" font-size="13.33" text-anchor="end">3</text>
<text class="b" x="46.5" y="337.6" font-size="13.33" text-anchor="end">2</text>
<text class="b" x="46.5" y="398.6" font-size="13.33" text-anchor="end">1</text>
<text class="b" x="46.5" y="458.6" font-size="13.33" text-anchor="end">0</text>
<text class="b" x="88.0" y="474.8" font-size="13" text-anchor="middle">Jan</text>
<text class="b" x="143.5" y="474.8" font-size="13" text-anchor="middle">Feb</text>
<text class="b" x="198.5" y="474.8" font-size="13" text-anchor="middle">Mar</text>
<text class="b" x="254.5" y="474.8" font-size="13" text-anchor="middle">Apr</text>
<text class="b" x="311.6" y="474.8" font-size="13" text-anchor="middle">May</text>
<text class="b" x="367.5" y="474.8" font-size="13" text-anchor="middle">Jun</text>
<text class="b" x="424.4" y="474.8" font-size="13" text-anchor="middle">Jul</text>
<text class="b" x="481.9" y="474.8" font-size="13" text-anchor="middle">Aug</text>
<text class="b" x="540.0" y="474.8" font-size="13" text-anchor="middle">Sep</text>
<text class="b" x="596.6" y="474.8" font-size="13" text-anchor="middle">Oct</text>
<text class="b" x="653.4" y="474.8" font-size="13" text-anchor="middle">Nov</text>
<text class="b" x="710.8" y="474.8" font-size="13" text-anchor="middle">Dec</text>
<text x="66.5" y="403.5" font-size="11.6">MQ</text>
<text x="106.5" y="442.3" font-size="11.6">MNQ</text>
<text x="66.8" y="446" font-size="11.6">NQ</text>
<g shape-rendering="crispEdges">
<rect x="60.5" y="493.5" width="10" height="10" fill="#2aa5ff" stroke="#0000ff"/>
<rect x="149.5" y="493.5" width="10" height="10" fill="#fff" stroke="#0000ff"/>
<rect x="234.5" y="493.5" width="10" height="10" fill="#fff" stroke="#ff0000"/>
</g>
<text class="b" x="75.5" y="502.8" font-size="13.33">Mittelwert</text>
<text class="b" x="164.5" y="502.8" font-size="13.33">Minimum</text>
<text class="b" x="249.5" y="502.8" font-size="13.33">Maximum</text>
</svg></body></html>
